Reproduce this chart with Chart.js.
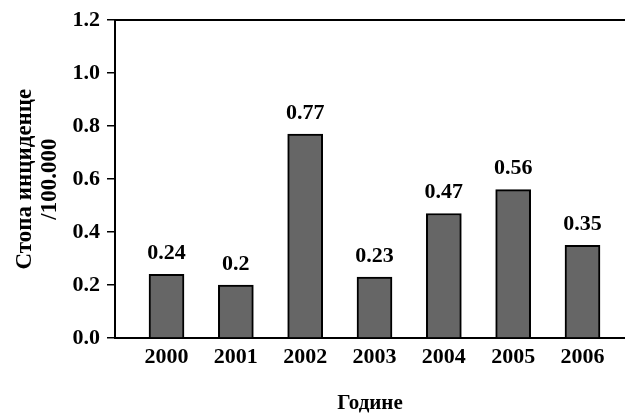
<!DOCTYPE html>
<html>
<head>
<meta charset="utf-8">
<script src="https://cdn.jsdelivr.net/npm/chart.js@4"></script>
<style>
  html, body { margin: 0; padding: 0; background: #ffffff; }
  #wrap { width: 625px; height: 414px; }
</style>
</head>
<body>
<div id="wrap"><canvas id="chart"></canvas></div>
<script>
// Incidence rate per 100,000, by year
const years = [2000, 2001, 2002, 2003, 2004, 2005, 2006];
const rates = [0.24, 0.2, 0.77, 0.23, 0.47, 0.56, 0.35];
const rateLabels = ['0.24', '0.2', '0.77', '0.23', '0.47', '0.56', '0.35'];
const yTicks = [0, 0.2, 0.4, 0.6, 0.8, 1.0, 1.2];
const yTitle = ['Стопа инциденце', '/100.000'];
const xTitle = 'Године';

const FONT = '"Liberation Serif", "Times New Roman", serif';

// Writes each bar's value above it
const valueLabels = {
  id: 'valueLabels',
  afterDatasetsDraw(chart) {
    const ctx = chart.ctx;
    const meta = chart.getDatasetMeta(0);
    ctx.save();
    ctx.font = 'bold 22px ' + FONT;
    ctx.fillStyle = '#000';
    ctx.textAlign = 'center';
    ctx.textBaseline = 'bottom';
    meta.data.forEach((bar, i) => {
      ctx.fillText(rateLabels[i], bar.x, bar.y - 10);
    });
    ctx.restore();
  }
};

const xMin = 1999.257, xMax = 2006.613;

new Chart(document.getElementById('chart'), {
  type: 'bar',
  data: {
    datasets: [{
      data: years.map((y, i) => ({ x: y, y: rates[i] })),
      backgroundColor: '#666666',
      borderColor: '#000000',
      borderWidth: 2,
      barThickness: 35
    }]
  },
  options: {
    responsive: true,
    maintainAspectRatio: false,
    animation: false,
    layout: { padding: 0 },
    plugins: { legend: { display: false }, tooltip: { enabled: false } },
    scales: {
      x: {
        type: 'linear',
        position: 'bottom',
        offset: false,
        min: xMin,
        max: xMax,
        afterBuildTicks: s => { s.ticks = years.map(v => ({ value: v })); },
        afterFit: s => { s.height = 76; },
        grid: { display: false, drawTicks: false, offset: false },
        border: { display: true, color: '#000', width: 2 },
        ticks: {
          color: '#000',
          padding: 6,
          maxRotation: 0,
          autoSkip: false,
          font: { family: FONT, size: 22, weight: 'bold' },
          callback: v => String(v)
        },
        title: {
          display: true,
          text: xTitle,
          color: '#000',
          font: { family: FONT, size: 21, weight: 'bold' },
          padding: { top: 0, bottom: -2 }
        }
      },
      xTop: {
        type: 'linear',
        position: 'top',
        offset: false,
        min: xMin,
        max: xMax,
        afterFit: s => { s.height = 20; },
        grid: { display: false, drawTicks: false, offset: false },
        border: { display: true, color: '#000', width: 2 },
        ticks: { display: false }
      },
      y: {
        min: 0,
        max: 1.2,
        afterBuildTicks: s => { s.ticks = yTicks.map(v => ({ value: v })); },
        afterFit: s => { s.width = 115; },
        grid: { drawOnChartArea: false, drawTicks: true, tickLength: 8, color: '#000', lineWidth: 1.5 },
        border: { display: true, color: '#000', width: 2 },
        ticks: {
          color: '#000',
          padding: 7,
          font: { family: FONT, size: 22, weight: 'bold' },
          callback: v => Number(v).toFixed(1)
        },
        title: {
          display: true,
          text: yTitle,
          color: '#000',
          font: { family: FONT, size: 23, weight: 'bold', lineHeight: 1.1 },
          padding: { top: 12, bottom: 0 }
        }
      }
    }
  },
  plugins: [valueLabels]
});
</script>
</body>
</html>
